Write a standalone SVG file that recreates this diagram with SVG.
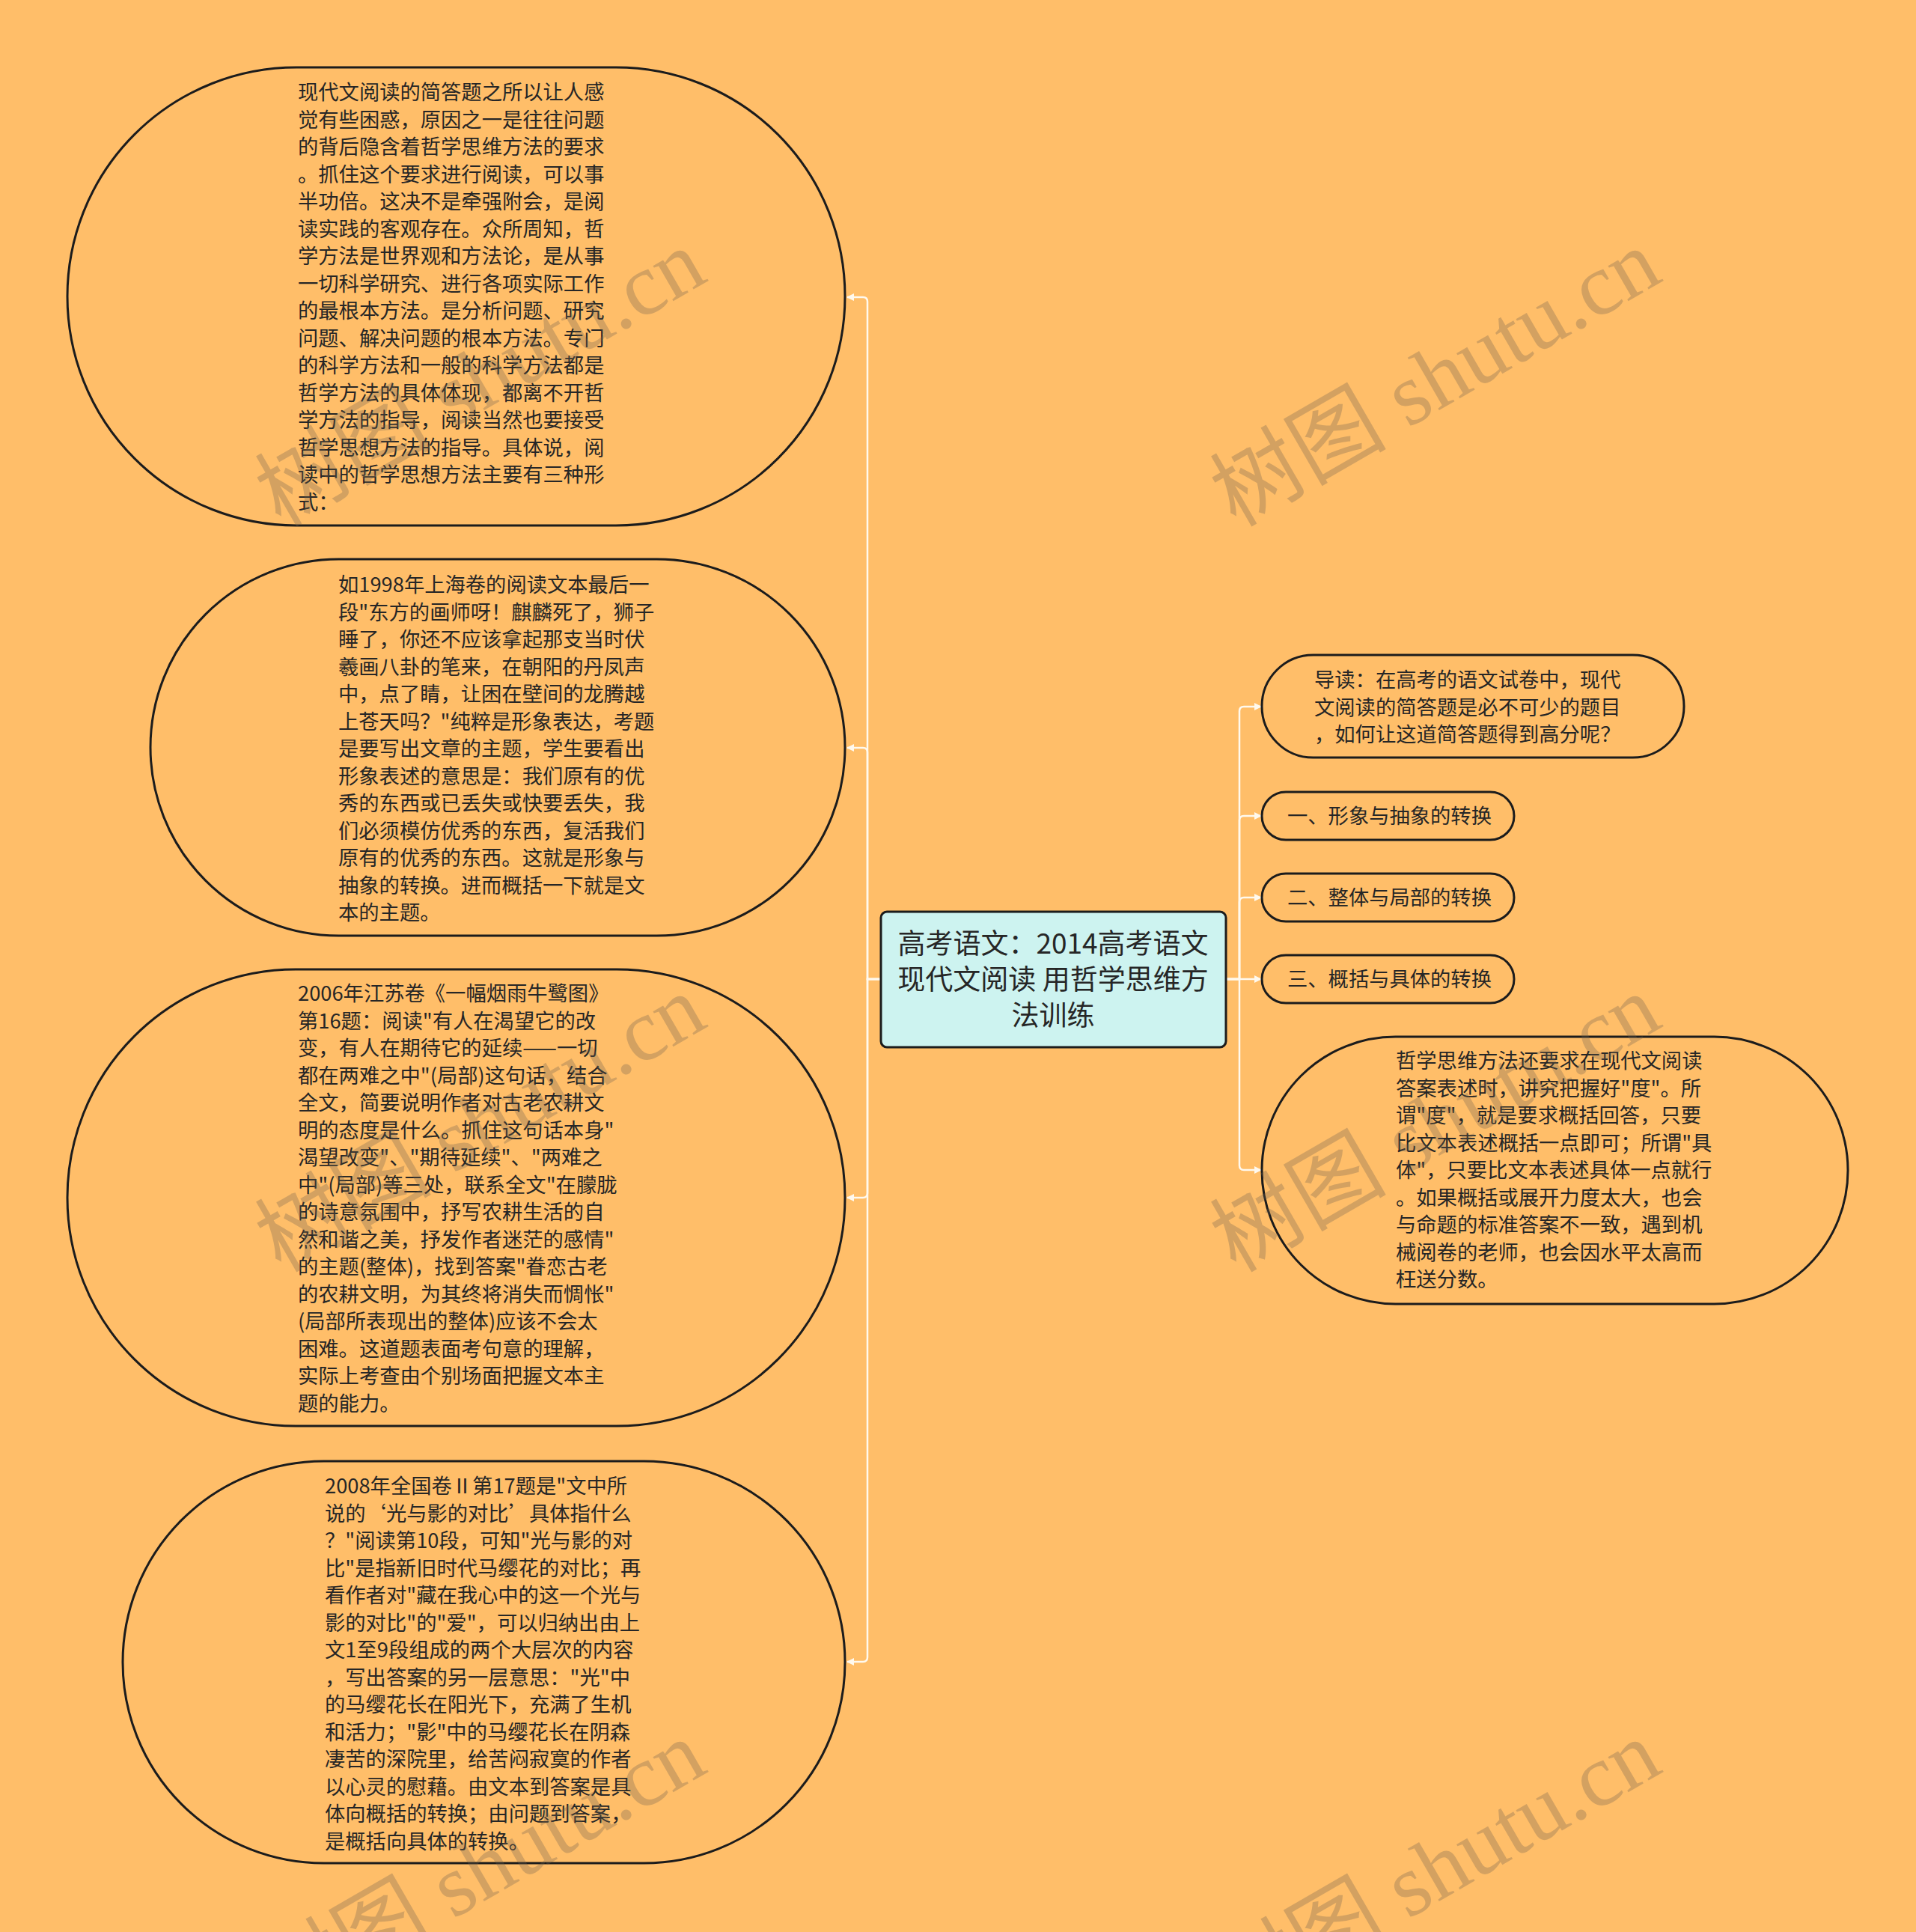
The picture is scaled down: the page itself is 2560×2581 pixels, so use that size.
<svg xmlns="http://www.w3.org/2000/svg" width="2560" height="2581" viewBox="0 0 2560 2581">
<defs>
<style>
.bg{fill:#FFBE69}
.node{fill:#FFBE69;stroke:#1c1c1c;stroke-width:3}
.root{fill:#CDF3F0;stroke:#1c1c1c;stroke-width:3}
.t{font-family:"Noto Sans CJK SC","Noto Sans",sans-serif;font-size:27.3px;fill:#262626}
.rt{font-family:"Noto Sans CJK SC","Noto Sans",sans-serif;font-size:37px;fill:#262626;text-anchor:middle}
.edge{fill:none;stroke:#FFF9EE;stroke-width:2.5;marker-end:url(#arr)}
.wm{font-family:"Liberation Serif","Noto Sans CJK SC",serif;font-size:118px;fill:#6E5F50;fill-opacity:0.3}
</style>
<marker id="arr" viewBox="0 0 10 10" refX="9" refY="5" markerWidth="10" markerHeight="10" markerUnits="userSpaceOnUse" orient="auto">
<path d="M0,0 L10,5 L0,10 z" fill="#FFF9EE"/>
</marker>
</defs>
<rect class="bg" x="0" y="0" width="2560" height="2581"/>

<g id="connectors">
<path class="edge" d="M1177,1308 H1159 V403 Q1159,397 1153,397 H1132"/>
<path class="edge" d="M1177,1308 H1159 V1005 Q1159,999 1153,999 H1132"/>
<path class="edge" d="M1177,1308 H1159 V1594 Q1159,1600 1153,1600 H1132"/>
<path class="edge" d="M1177,1308 H1159 V2214 Q1159,2220 1153,2220 H1132"/>
<path class="edge" d="M1638,1308 H1656 V950 Q1656,944 1662,944 H1685"/>
<path class="edge" d="M1638,1308 H1656 V1096 Q1656,1090 1662,1090 H1685"/>
<path class="edge" d="M1638,1308 H1656 V1205 Q1656,1199 1662,1199 H1685"/>
<path class="edge" d="M1638,1308 H1685"/>
<path class="edge" d="M1638,1308 H1656 V1557 Q1656,1563 1662,1563 H1685"/>
</g>

<g id="root">
<rect class="root" x="1177" y="1218" width="461" height="181" rx="8"/>
<text class="rt" x="1407" y="1274">高考语文：2014高考语文</text>
<text class="rt" x="1407" y="1322">现代文阅读 用哲学思维方</text>
<text class="rt" x="1407" y="1370">法训练</text>
</g>

<g id="node-a">
<rect class="node" x="90" y="90" width="1039" height="612" rx="306"/>
<text class="t" x="398" y="133.4">现代文阅读的简答题之所以让人感</text>
<text class="t" x="398" y="169.9">觉有些困惑，原因之一是往往问题</text>
<text class="t" x="398" y="206.4">的背后隐含着哲学思维方法的要求</text>
<text class="t" x="398" y="242.9">。抓住这个要求进行阅读，可以事</text>
<text class="t" x="398" y="279.4">半功倍。这决不是牵强附会，是阅</text>
<text class="t" x="398" y="315.9">读实践的客观存在。众所周知，哲</text>
<text class="t" x="398" y="352.4">学方法是世界观和方法论，是从事</text>
<text class="t" x="398" y="388.9">一切科学研究、进行各项实际工作</text>
<text class="t" x="398" y="425.4">的最根本方法。是分析问题、研究</text>
<text class="t" x="398" y="461.9">问题、解决问题的根本方法。专门</text>
<text class="t" x="398" y="498.4">的科学方法和一般的科学方法都是</text>
<text class="t" x="398" y="534.9">哲学方法的具体体现，都离不开哲</text>
<text class="t" x="398" y="571.4">学方法的指导，阅读当然也要接受</text>
<text class="t" x="398" y="607.9">哲学思想方法的指导。具体说，阅</text>
<text class="t" x="398" y="644.4">读中的哲学思想方法主要有三种形</text>
<text class="t" x="398" y="680.9">式：</text>
</g>

<g id="node-b">
<rect class="node" x="201" y="747" width="928" height="503" rx="251.5"/>
<text class="t" x="452" y="791.4">如1998年上海卷的阅读文本最后一</text>
<text class="t" x="452" y="827.9">段"东方的画师呀！麒麟死了，狮子</text>
<text class="t" x="452" y="864.4">睡了，你还不应该拿起那支当时伏</text>
<text class="t" x="452" y="900.9">羲画八卦的笔来，在朝阳的丹凤声</text>
<text class="t" x="452" y="937.4">中，点了睛，让困在壁间的龙腾越</text>
<text class="t" x="452" y="973.9">上苍天吗？"纯粹是形象表达，考题</text>
<text class="t" x="452" y="1010.4">是要写出文章的主题，学生要看出</text>
<text class="t" x="452" y="1046.9">形象表述的意思是：我们原有的优</text>
<text class="t" x="452" y="1083.4">秀的东西或已丢失或快要丢失，我</text>
<text class="t" x="452" y="1119.9">们必须模仿优秀的东西，复活我们</text>
<text class="t" x="452" y="1156.4">原有的优秀的东西。这就是形象与</text>
<text class="t" x="452" y="1192.9">抽象的转换。进而概括一下就是文</text>
<text class="t" x="452" y="1229.4">本的主题。</text>
</g>

<g id="node-c">
<rect class="node" x="90" y="1295" width="1039" height="610" rx="305"/>
<text class="t" x="398" y="1337.4">2006年江苏卷《一幅烟雨牛鹭图》</text>
<text class="t" x="398" y="1373.9">第16题：阅读"有人在渴望它的改</text>
<text class="t" x="398" y="1410.4">变，有人在期待它的延续——一切</text>
<text class="t" x="398" y="1446.9">都在两难之中"(局部)这句话，结合</text>
<text class="t" x="398" y="1483.4">全文，简要说明作者对古老农耕文</text>
<text class="t" x="398" y="1519.9">明的态度是什么。抓住这句话本身"</text>
<text class="t" x="398" y="1556.4">渴望改变"、"期待延续"、"两难之</text>
<text class="t" x="398" y="1592.9">中"(局部)等三处，联系全文"在朦胧</text>
<text class="t" x="398" y="1629.4">的诗意氛围中，抒写农耕生活的自</text>
<text class="t" x="398" y="1665.9">然和谐之美，抒发作者迷茫的感情"</text>
<text class="t" x="398" y="1702.4">的主题(整体)，找到答案"眷恋古老</text>
<text class="t" x="398" y="1738.9">的农耕文明，为其终将消失而惆怅"</text>
<text class="t" x="398" y="1775.4">(局部所表现出的整体)应该不会太</text>
<text class="t" x="398" y="1811.9">困难。这道题表面考句意的理解，</text>
<text class="t" x="398" y="1848.4">实际上考查由个别场面把握文本主</text>
<text class="t" x="398" y="1884.9">题的能力。</text>
</g>

<g id="node-d">
<rect class="node" x="164" y="1952" width="965" height="537" rx="268.5"/>
<text class="t" x="434" y="1995.4">2008年全国卷Ⅱ第17题是"文中所</text>
<text class="t" x="434" y="2031.9">说的‘光与影的对比’具体指什么</text>
<text class="t" x="434" y="2068.4">？"阅读第10段，可知"光与影的对</text>
<text class="t" x="434" y="2104.9">比"是指新旧时代马缨花的对比；再</text>
<text class="t" x="434" y="2141.4">看作者对"藏在我心中的这一个光与</text>
<text class="t" x="434" y="2177.9">影的对比"的"爱"，可以归纳出由上</text>
<text class="t" x="434" y="2214.4">文1至9段组成的两个大层次的内容</text>
<text class="t" x="434" y="2250.9">，写出答案的另一层意思："光"中</text>
<text class="t" x="434" y="2287.4">的马缨花长在阳光下，充满了生机</text>
<text class="t" x="434" y="2323.9">和活力；"影"中的马缨花长在阴森</text>
<text class="t" x="434" y="2360.4">凄苦的深院里，给苦闷寂寞的作者</text>
<text class="t" x="434" y="2396.9">以心灵的慰藉。由文本到答案是具</text>
<text class="t" x="434" y="2433.4">体向概括的转换；由问题到答案，</text>
<text class="t" x="434" y="2469.9">是概括向具体的转换。</text>
</g>

<g id="node-r1">
<rect class="node" x="1686" y="875" width="564" height="137" rx="68.5"/>
<text class="t" x="1756" y="918.4">导读：在高考的语文试卷中，现代</text>
<text class="t" x="1756" y="954.9">文阅读的简答题是必不可少的题目</text>
<text class="t" x="1756" y="991.4">，如何让这道简答题得到高分呢？</text>
</g>

<g id="node-r2">
<rect class="node" x="1686" y="1058" width="337" height="64" rx="32"/>
<text class="t" x="1720" y="1100.4">一、形象与抽象的转换</text>
</g>

<g id="node-r3">
<rect class="node" x="1686" y="1167" width="337" height="64" rx="32"/>
<text class="t" x="1720" y="1209.4">二、整体与局部的转换</text>
</g>

<g id="node-r4">
<rect class="node" x="1686" y="1276" width="337" height="64" rx="32"/>
<text class="t" x="1720" y="1318.4">三、概括与具体的转换</text>
</g>

<g id="node-r5">
<rect class="node" x="1686" y="1385" width="783" height="357" rx="178.5"/>
<text class="t" x="1865" y="1427.4">哲学思维方法还要求在现代文阅读</text>
<text class="t" x="1865" y="1463.9">答案表述时，讲究把握好"度"。所</text>
<text class="t" x="1865" y="1500.4">谓"度"，就是要求概括回答，只要</text>
<text class="t" x="1865" y="1536.9">比文本表述概括一点即可；所谓"具</text>
<text class="t" x="1865" y="1573.4">体"，只要比文本表述具体一点就行</text>
<text class="t" x="1865" y="1609.9">。如果概括或展开力度太大，也会</text>
<text class="t" x="1865" y="1646.4">与命题的标准答案不一致，遇到机</text>
<text class="t" x="1865" y="1682.9">械阅卷的老师，也会因水平太高而</text>
<text class="t" x="1865" y="1719.4">枉送分数。</text>
</g>

<g id="watermarks">
<text class="wm" transform="translate(375,705) rotate(-30)">树图 shutu.cn</text>
<text class="wm" transform="translate(1651,705) rotate(-30)">树图 shutu.cn</text>
<text class="wm" transform="translate(375,1701) rotate(-30)">树图 shutu.cn</text>
<text class="wm" transform="translate(1651,1701) rotate(-30)">树图 shutu.cn</text>
<text class="wm" transform="translate(375,2697) rotate(-30)">树图 shutu.cn</text>
<text class="wm" transform="translate(1651,2697) rotate(-30)">树图 shutu.cn</text>
</g>
</svg>
